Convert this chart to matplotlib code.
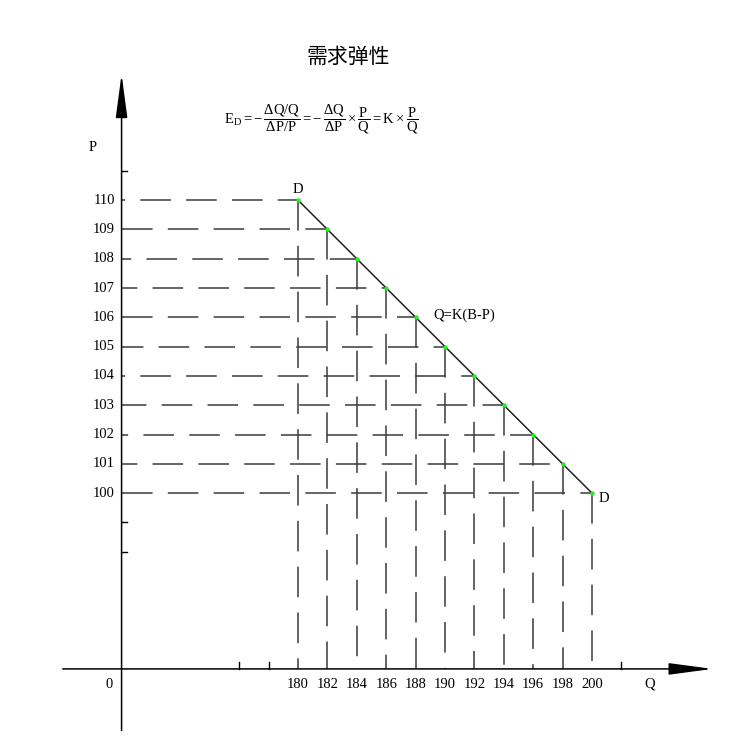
import numpy as np
import matplotlib
matplotlib.use("Agg")
import matplotlib.pyplot as plt

plt.rcParams['font.family'] = ['Liberation Serif', 'DejaVu Serif']
plt.rcParams['mathtext.fontset'] = 'custom'
plt.rcParams['mathtext.rm'] = 'Liberation Serif'
plt.rcParams['mathtext.it'] = 'Liberation Serif'

# demand curve points (Q, P)
q_vals = [180, 182, 184, 186, 188, 190, 192, 194, 196, 198, 200]
p_vals = [110, 109, 108, 107, 106, 105, 104, 103, 102, 101, 100]
p_ticks = [100, 101, 102, 103, 104, 105, 106, 107, 108, 109, 110]
q_ticks = [180, 182, 184, 186, 188, 190, 192, 194, 196, 198, 200]
p_minor = [98, 99, 111]
q_minor = [176, 178, 202]

# axis origin (the axes are broken, "0" sits here)
q0, p0 = 168, 94

fig = plt.figure(figsize=(7.44, 7.53), dpi=100)
ax = fig.add_axes([0, 0, 1, 1])
ax.set_xlim(159.73, 210.34)
ax.set_ylim(91.13, 116.83)
ax.axis('off')

dash_col = '#3a3a3a'
# horizontal dashed guides, each with its own phase like the original
h_offsets = [18, 0, 14, 10, 0, 6, 18, 4, 16, 10, 0]
for q, p, off in zip(q_vals, p_vals, h_offsets):
    ax.plot([q0, q], [p, p], color=dash_col, lw=1.1,
            linestyle=(off, (20, 10)))
# vertical dashed guides down to the Q axis
for q, p in zip(q_vals, p_vals):
    ax.plot([q, q], [p, p0], color=dash_col, lw=1.1, linestyle=(0, (20, 10)))

# demand line
ax.plot(q_vals, p_vals, color='#222222', lw=1.1, zorder=3)
ax.scatter(q_vals, p_vals, s=10, color='#22ee22', zorder=4, linewidths=0)

# axes with arrows
arrow = dict(arrowstyle='-|>,head_length=1.35,head_width=0.18',
             color='black', lw=1.1, mutation_scale=20, shrinkA=0, shrinkB=0)
ax.annotate('', xy=(q0, 114.3), xytext=(q0, 91.9), arrowprops=arrow)
ax.annotate('', xy=(208.2, p0), xytext=(164.0, p0), arrowprops=arrow)

# minor ticks
for p in p_minor:
    ax.plot([q0, q0 + 0.35], [p, p], color='black', lw=1.0)
for q in q_minor:
    ax.plot([q, q], [p0, p0 + 0.25], color='black', lw=1.0)

# tick labels
for p in p_ticks:
    ax.text(q0 - 0.45, p, str(p), ha='right', va='center', fontsize=10.5)
for q in q_ticks:
    ax.text(q, p0 - 0.3, str(q), ha='center', va='top', fontsize=10.5)

ax.text(q0 - 0.6, p0 - 0.3, '0', ha='right', va='top', fontsize=10.5)
ax.text(166.0, 111.8, 'P', ha='center', va='center', fontsize=10.5)
ax.text(203.9, p0 - 0.5, 'Q', ha='center', va='center', fontsize=10.5)
ax.text(180, 110.15, 'D', ha='center', va='bottom', fontsize=10.5)
ax.text(200.45, 99.8, 'D', ha='left', va='center', fontsize=10.5)
ax.text(189.2, 105.85, 'Q=K(B-P)', ha='left', va='bottom', fontsize=10.5)

ax.text(183.4, 114.9, '需求弹性', ha='center', va='center', fontsize=15,
        family=['Noto Sans CJK SC', 'DejaVu Sans'])
ax.text(181.6, 112.75,
        r'$\mathrm{E_D} = -\,\dfrac{\Delta Q/Q}{\Delta P/P} = -\,\dfrac{\Delta Q}{\Delta P}'
        r'\times\dfrac{P}{Q} = K\times\dfrac{P}{Q}$',
        ha='center', va='center', fontsize=10.5)

fig.savefig('out.png', dpi=100)
